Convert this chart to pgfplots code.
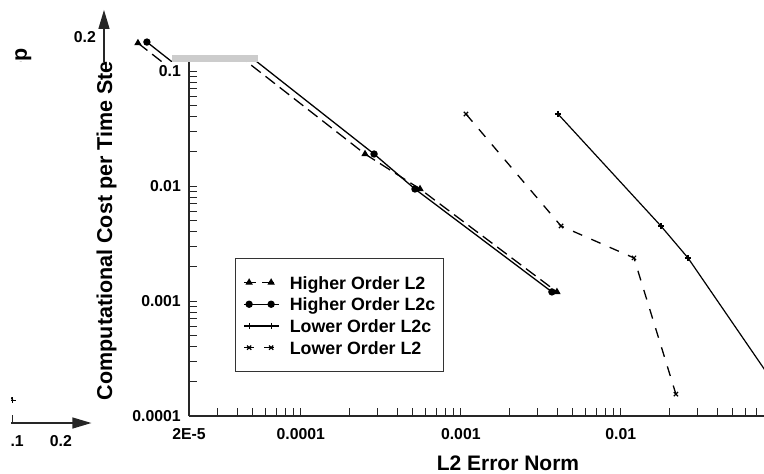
\documentclass[border=0pt]{standalone}
\usepackage{fontspec}
\setmainfont{Liberation Sans}
\usepackage{pgfplots}
\pgfplotsset{compat=1.18}
\usepackage{pgfplotstable}
\usetikzlibrary{arrows.meta}

\newcommand\fs[1]{\fontsize{#1}{#1}\selectfont\bfseries}

% legend samples: a short line with a mark near each end
\pgfplotsset{legend image code/.code={%
    \draw[#1, mark indices={2,3}] plot coordinates {(0pt,0pt) (5pt,0pt) (27pt,0pt) (35pt,0pt)};}}

% L2 error norm vs. computational cost per time step
\pgfplotstableread{
x        y
3.26e-5  0.175
2.52e-4  0.01898
5.56e-4  0.00942
3.99e-3  0.0012
}\hoLtwo
\pgfplotstableread{
x        y
3.71e-5  0.1786
2.87e-4  0.01898
5.17e-4  0.00942
3.71e-3  0.0012
}\hoLtwoc
\pgfplotstableread{
x        y
4.05e-3  0.0423
0.01782  0.00449
0.0263   0.00237
0.1      0.000158
}\loLtwoc
\pgfplotstableread{
x        y
1.077e-3 0.0423
4.23e-3  0.00449
0.01208  0.00237
0.0221   0.000155
}\loLtwo

\newcommand\chartbody{%
\begin{axis}[
  at={(189pt,-416pt)}, anchor=south west,
  scale only axis, width=670.4pt, height=406.1pt,
  xmode=log, ymode=log,
  xmin=2e-5, xmax=0.31, ymin=1e-4, ymax=0.34,
  axis x line*=bottom, axis y line*=left,
  axis line style={line width=1.3pt, draw=black!85, -{Triangle[length=19pt,width=11pt]}},
  tick align=inside,
  major tick length=8.5pt, minor tick length=8.5pt,
  tick style={line width=0.9pt, black!85},
  xtick={2e-5,1e-4,1e-3,1e-2,1e-1},
  xticklabels={2E-5,0.0001,0.001,0.01,0.1},
  minor xtick={3e-5,4e-5,5e-5,6e-5,7e-5,8e-5,9e-5,
               2e-4,3e-4,4e-4,5e-4,6e-4,7e-4,8e-4,9e-4,
               2e-3,3e-3,4e-3,5e-3,6e-3,7e-3,8e-3,9e-3,
               2e-2,3e-2,4e-2,5e-2,6e-2,7e-2,8e-2,9e-2},
  ytick={1e-4,1e-3,1e-2,1e-1},
  yticklabels={0.0001,0.001,0.01,0.1},
  minor ytick={2e-4,3e-4,4e-4,5e-4,6e-4,7e-4,8e-4,9e-4,
               2e-3,3e-3,4e-3,5e-3,6e-3,7e-3,8e-3,9e-3,
               2e-2,3e-2,4e-2,5e-2,6e-2,7e-2,8e-2,9e-2},
  extra x ticks={0.2}, extra x tick labels={0.2},
  extra y ticks={0.2}, extra y tick labels={0.2},
  extra tick style={major tick length=0pt},
  xticklabel style={font=\fs{15.8}, anchor=north, inner sep=0pt,
                    text height=11.3pt, text depth=0pt, yshift=-12pt},
  yticklabel style={font=\fs{15.8}, anchor=east, inner sep=0pt,
                    text height=11.3pt, text depth=0pt, xshift=-8pt},
  legend cell align=left,
  legend style={at={(axis description cs:0.0686,0.389)}, anchor=north west,
                draw=black!80, line width=1pt, fill=white,
                inner xsep=8pt, inner ysep=17.5pt, row sep=8.7pt,
                font=\fs{17.8},
                nodes={inner sep=0pt, text height=13pt, text depth=0pt},
                /tikz/every odd column/.append style={column sep=10pt}},
]
\addplot[black, line width=1.3pt, dash pattern=on 12pt off 6pt,
         mark=triangle*, mark size=3pt, mark options={solid}] table {\hoLtwo};
\addlegendentry{Higher Order L2}
\addplot[black, line width=1.3pt, mark=*, mark size=3pt] table {\hoLtwoc};
\addlegendentry{Higher Order L2c}
\addplot[black, line width=1.2pt, mark=+, mark size=3pt,
         mark options={line width=1.2pt}] table {\loLtwoc};
\addlegendentry{Lower Order L2c}
\addplot[black, line width=1.3pt, dash pattern=on 10pt off 10pt,
         mark=x, mark size=3pt, mark options={solid, line width=1.2pt}] table {\loLtwo};
\addlegendentry{Lower Order L2}
\end{axis}
\node[font=\fs{21.5}, rotate=90, anchor=base] at (112pt,-224pt)
  {Computational Cost per Time Step};
\node[font=\fs{21}, anchor=base] at (508pt,-470.5pt) {L2 Error Norm};
}

\begin{document}
\begin{tikzpicture}
\useasboundingbox (0,0) rectangle (764pt,-474pt);
% main panel
\begin{scope}
  \clip (0pt,-61pt) rectangle (764pt,-474pt);
  \chartbody
\end{scope}
% top band, offset to the left
\begin{scope}
  \clip (0pt,0pt) rectangle (764pt,-61pt);
  \begin{scope}[xshift=-85pt]
    \chartbody
  \end{scope}
\end{scope}
% right end of the error axis, wrapped to the lower left
\begin{scope}
  \clip (11pt,-397pt) rectangle (96pt,-474pt);
  \begin{scope}[xshift=-768pt, yshift=-7pt]
    \chartbody
  \end{scope}
\end{scope}
\fill[black!20] (172pt,-55pt) rectangle (258pt,-62pt);
\end{tikzpicture}
\end{document}
